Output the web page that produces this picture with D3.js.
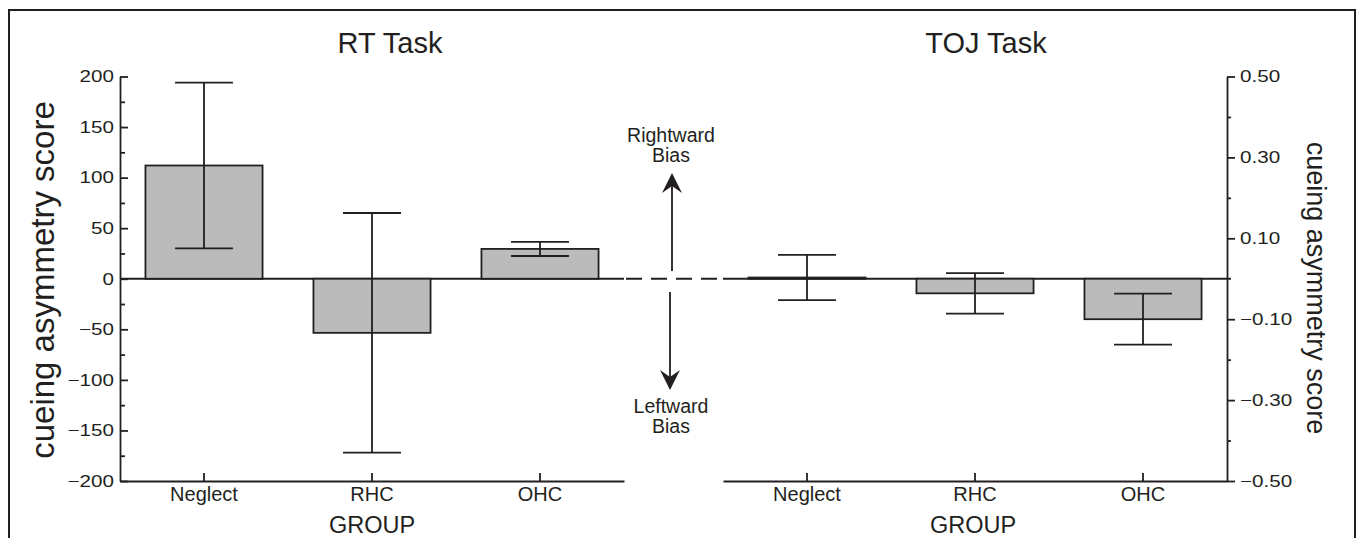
<!DOCTYPE html>
<html>
<head>
<meta charset="utf-8">
<script src="https://cdn.jsdelivr.net/npm/d3@7"></script>
<style>
  body { margin: 0; background: #fff; }
  text { font-family: "Liberation Sans", Arial, sans-serif; fill: #231f20; }
</style>
</head>
<body>
<svg id="chart" width="1358" height="538"></svg>
<script>
// data
const groups = ['Neglect', 'RHC', 'OHC'];
const rtMean = [112, -53.5, 29.5];
const rtErr = [82, 118.5, 7];
const tojMean = [0.003, -0.036, -0.1];
const tojErr = [0.056, 0.05, 0.063];
const rtTicks = [-200, -150, -100, -50, 0, 50, 100, 150, 200];
const rtMinor = [-175, -125, -75, -25, 25, 75, 125, 175];
const tojTicks = [-0.5, -0.3, -0.1, 0.1, 0.3, 0.5];
const tojMinor = [-0.4, -0.2, 0.2, 0.4];

const ink = '#231f20';
const svg = d3.select('#chart');

// frame
svg.append('rect')
  .attr('x', 9).attr('y', 10)
  .attr('width', 1346).attr('height', 560)
  .attr('fill', 'none').attr('stroke', ink).attr('stroke-width', 2);

// scales
const plotTop = 76.5, plotBottom = 481;
const yRT = d3.scaleLinear().domain([-200, 200]).range([plotBottom, plotTop]);
const yTOJ = d3.scaleLinear().domain([-0.5, 0.5]).range([plotBottom, plotTop]);
const xRT = d3.scaleBand().domain(groups).range([120, 624]);
const xTOJ = d3.scaleBand().domain(groups).range([723, 1227]);
const y0 = yRT(0);

// zero line (solid in panels, dashed in between)
svg.append('line').attr('x1', 120).attr('x2', 624).attr('y1', y0).attr('y2', y0)
  .attr('stroke', ink).attr('stroke-width', 1.8);
svg.append('line').attr('x1', 626).attr('x2', 723).attr('y1', y0).attr('y2', y0)
  .attr('stroke', ink).attr('stroke-width', 1.8).attr('stroke-dasharray', '16,9');
svg.append('line').attr('x1', 723).attr('x2', 1231).attr('y1', y0).attr('y2', y0)
  .attr('stroke', ink).attr('stroke-width', 1.8);

// bars + error bars
function panel(x, y, means, errs) {
  const bw = x.bandwidth() * 0.697;
  const cap = x.bandwidth() * 0.345;
  const g = svg.append('g');
  g.selectAll('rect')
    .data(groups)
    .join('rect')
    .attr('x', (d) => x(d) + (x.bandwidth() - bw) / 2)
    .attr('width', bw)
    .attr('y', (d, i) => y(Math.max(0, means[i])))
    .attr('height', (d, i) => Math.max(1, Math.abs(y(means[i]) - y(0))))
    .attr('fill', '#bbbbbb')
    .attr('stroke', ink)
    .attr('stroke-width', 1.8);
  groups.forEach((d, i) => {
    const cx = x(d) + x.bandwidth() / 2;
    const hi = y(means[i] + errs[i]), lo = y(means[i] - errs[i]);
    g.append('line').attr('x1', cx).attr('x2', cx).attr('y1', hi).attr('y2', lo)
      .attr('stroke', ink).attr('stroke-width', 1.8);
    [hi, lo].forEach(v => {
      g.append('line').attr('x1', cx - cap / 2).attr('x2', cx + cap / 2)
        .attr('y1', v).attr('y2', v)
        .attr('stroke', ink).attr('stroke-width', 1.8);
    });
  });
}
panel(xRT, yRT, rtMean, rtErr);
panel(xTOJ, yTOJ, tojMean, tojErr);

// axes
function styleAxis(g) {
  g.selectAll('path, line').attr('stroke', ink).attr('stroke-width', 1.8);
  g.selectAll('text').attr('fill', ink);
}
const fmtRT = d => (d < 0 ? '\u2212' : '') + Math.abs(d);
const fmtTOJ = d => (d < 0 ? '\u2212' : '') + Math.abs(d).toFixed(2);

const leftAxis = svg.append('g').attr('transform', 'translate(120,0)')
  .call(d3.axisLeft(yRT).tickValues(rtTicks).tickFormat(fmtRT).tickSize(-8).tickSizeOuter(0).tickPadding(6))
  .call(styleAxis);
svg.append('g').attr('transform', 'translate(120,0)')
  .call(d3.axisLeft(yRT).tickValues(rtMinor).tickFormat('').tickSize(-5).tickSizeOuter(0))
  .call(g => g.select('.domain').remove())
  .call(styleAxis);

const rightAxis = svg.append('g').attr('transform', 'translate(1227,0)')
  .call(d3.axisRight(yTOJ).tickValues(tojTicks).tickFormat(fmtTOJ).tickSize(8).tickSizeOuter(0).tickPadding(5))
  .call(styleAxis);
svg.append('g').attr('transform', 'translate(1227,0)')
  .call(d3.axisRight(yTOJ).tickValues(tojMinor).tickFormat('').tickSize(4).tickSizeOuter(0))
  .call(g => g.select('.domain').remove())
  .call(styleAxis);

[leftAxis, rightAxis].forEach(a => {
  a.selectAll('text')
    .attr('font-size', 16.5)
    .attr('font-family', '"Liberation Sans", Arial, sans-serif')
    .each(function () {
      const len = this.getComputedTextLength();
      d3.select(this).attr('textLength', len * 1.25).attr('lengthAdjust', 'spacingAndGlyphs');
    });
});

[xRT, xTOJ].forEach(x => {
  svg.append('g').attr('transform', `translate(0,${plotBottom})`)
    .call(d3.axisBottom(x).tickSize(-8).tickSizeOuter(0).tickPadding(6))
    .call(styleAxis)
    .call(g => g.selectAll('text')
      .attr('font-size', 20)
      .attr('font-family', '"Liberation Sans", Arial, sans-serif'));
});

// titles
svg.append('text').attr('x', 390).attr('y', 53).attr('text-anchor', 'middle')
  .attr('font-size', 29).text('RT Task');
svg.append('text').attr('x', 986).attr('y', 53).attr('text-anchor', 'middle')
  .attr('font-size', 29).text('TOJ Task');
svg.append('text').attr('x', 372).attr('y', 533).attr('text-anchor', 'middle')
  .attr('font-size', 23.5).text('GROUP');
svg.append('text').attr('x', 973).attr('y', 533).attr('text-anchor', 'middle')
  .attr('font-size', 23.5).text('GROUP');
svg.append('text').attr('transform', 'translate(42,280) rotate(-90)')
  .attr('text-anchor', 'middle').attr('dy', '0.35em')
  .attr('font-size', 33).text('cueing asymmetry score');
svg.append('text').attr('transform', 'translate(1316,288) rotate(90)')
  .attr('text-anchor', 'middle').attr('dy', '0.35em')
  .attr('font-size', 27).text('cueing asymmetry score');

// bias arrows
function arrow(x, y1, y2) {
  const dir = y2 < y1 ? -1 : 1;
  svg.append('line').attr('x1', x).attr('x2', x).attr('y1', y1).attr('y2', y2 - dir * 8)
    .attr('stroke', ink).attr('stroke-width', 1.8);
  svg.append('path')
    .attr('d', `M${x},${y2} L${x - 10},${y2 - dir * 20} L${x},${y2 - dir * 13} L${x + 10},${y2 - dir * 20} Z`)
    .attr('fill', ink);
}
arrow(672, 271, 173);
arrow(670, 292, 390);

[['Rightward', 142], ['Bias', 162], ['Leftward', 413], ['Bias', 433]].forEach(([t, yy]) => {
  svg.append('text').attr('x', 671).attr('y', yy).attr('text-anchor', 'middle')
    .attr('font-size', 19.5).text(t);
});
</script>
</body>
</html>
